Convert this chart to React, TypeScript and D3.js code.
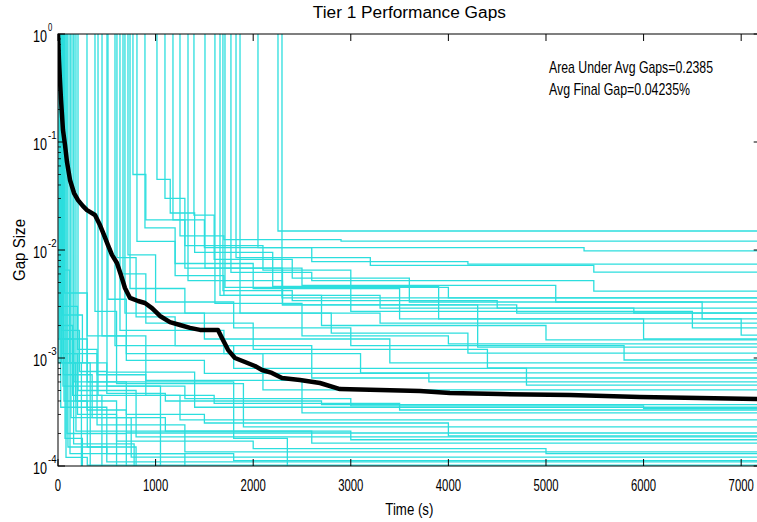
import React from 'react';
import * as d3 from 'd3';

const WIDTH = 757;
const HEIGHT = 522;

const titleText = 'Tier 1 Performance Gaps';
const xLabelText = 'Time (s)';
const yLabelText = 'Gap Size';
const noteLines = ['Area Under Avg Gaps=0.2385', 'Avg Final Gap=0.04235%'];

const xTickValues = [0, 1000, 2000, 3000, 4000, 5000, 6000, 7000];
const yDecadeExponents = [0, -1, -2, -3, -4];

// Average gap across all runs (time in s, gap as a fraction)
const avgTime = [0, 10, 20, 31, 41, 51, 72, 92, 123, 164, 205, 256, 297, 379, 430, 471, 512, 553, 604, 645, 686, 738, 820, 891, 963, 1045, 1147, 1250, 1352, 1455, 1639, 1680, 1742, 1813, 1916, 2018, 2090, 2192, 2295, 2479, 2684, 2889, 3299, 3709, 4016, 4528, 5245, 5962, 6577, 7200];
const avgGap = [1, 0.574, 0.375, 0.245, 0.178, 0.129, 0.0938, 0.0653, 0.0445, 0.0337, 0.029, 0.0255, 0.0234, 0.0211, 0.017, 0.0138, 0.0111, 0.009, 0.00758, 0.00587, 0.00445, 0.0036, 0.00337, 0.00323, 0.0029, 0.00245, 0.00215, 0.00202, 0.0019, 0.00182, 0.00182, 0.00153, 0.00119, 0.001, 0.000918, 0.000843, 0.000774, 0.000727, 0.000653, 0.000625, 0.000587, 0.000516, 0.000506, 0.000495, 0.000474, 0.000464, 0.000454, 0.000435, 0.000426, 0.000417];

// Individual runs: [time (s), best gap so far] breakpoints, held until the next one
const run01 = [[0, 1.2], [2295, 0.0036]];
const run02 = [[0, 1.2], [2254, 0.015]];
const run03 = [[0, 1.2], [2049, 0.0105], [5390, 0.0098]];
const run04 = [[0, 1.2], [1824, 0.0085], [3200, 0.0072], [5490, 0.00625]];
const run05 = [[0, 1.2], [1772, 0.0062], [2600, 0.0052], [5490, 0.00417]];
const run06 = [[0, 1.2], [1711, 0.0045], [4000, 0.0036]];
const run07 = [[0, 1.2], [1690, 0.0042], [2400, 0.0034], [4500, 0.0029]];
const run08 = [[0, 1.2], [1660, 0.0038], [3300, 0.0029], [5900, 0.00261]];
const run09 = [[0, 1.2], [1393, 0.021], [1600, 0.0082], [2400, 0.0055], [3600, 0.0033], [6600, 0.0023]];
const run10 = [[0, 1.2], [1096, 0.03], [1300, 0.011], [2100, 0.0065], [3000, 0.0027], [6500, 0.0019]];
const run11 = [[0, 1.2], [1014, 0.045], [1150, 0.022], [1400, 0.0095], [2200, 0.0046], [3900, 0.0023], [7000, 0.00163]];
const run12 = [[0, 1.2], [809, 0.012], [1200, 0.0058], [1700, 0.0038], [2700, 0.002], [5000, 0.00147]];
const run13 = [[0, 1.2], [768, 0.05], [900, 0.019], [1300, 0.0068], [2300, 0.0031], [4300, 0.00126]];
const run14 = [[0, 1.2], [738, 0.0044], [1300, 0.0026], [2800, 0.0017], [4200, 0.00111]];
const run15 = [[0, 1.2], [717, 0.009], [1000, 0.0033], [1800, 0.0019], [3000, 0.0013], [5800, 0.000958]];
const run16 = [[0, 1.2], [686, 0.0026], [1500, 0.0015], [3400, 0.0009]];
const run17 = [[0, 1.2], [666, 0.006], [900, 0.0021], [2000, 0.0012], [4400, 0.000808]];
const run18 = [[0, 1.2], [635, 0.0018], [1700, 0.0011], [3100, 0.000727]];
const run19 = [[0, 1.2], [604, 0.0085], [800, 0.0024], [1200, 0.0013], [2600, 0.000653]];
const run20 = [[0, 1.2], [584, 0.0013], [1800, 0.0008], [4800, 0.000562]];
const run21 = [[0, 1.2], [512, 0.0035], [700, 0.0011], [2100, 0.000506]];
const run22 = [[0, 1.2], [502, 0.00074], [1400, 0.00035]];
const run23 = [[0, 1.2], [451, 0.0016], [900, 0.00062], [2500, 0.00031]];
const run24 = [[0, 1.2], [410, 0.00045], [1250, 0.000267]];
const run25 = [[0, 1.2], [379, 0.0027], [600, 0.00058], [1900, 0.00023]];
const run26 = [[0, 1.2], [297, 0.00033], [700, 0.000202]];
const run27 = [[0, 1.2], [205, 0.0005], [800, 0.000186]];
const run28 = [[0, 1.2], [184, 0.00021], [2600, 0.000163]];
const run29 = [[0, 1.2], [154, 0.0011], [400, 0.00024], [1300, 0.000135]];
const run30 = [[0, 1.2], [133, 0.00028], [750, 0.000121]];
const run31 = [[0, 1.2], [102, 0.00015], [500, 0.000109]];
const run32 = [[0, 1.2], [82, 0.00012], [300, 0.000102]];
const run33 = [[0, 1.2], [891, 0.016], [1200, 0.0075], [2000, 0.0044], [3500, 0.0023], [6000, 0.0015]];
const run34 = [[0, 1.2], [1178, 0.019], [1500, 0.0105], [2600, 0.0078], [4200, 0.0074]];
const run35 = [[0, 1.2], [1250, 0.0135], [1700, 0.0125], [2900, 0.0121]];
const run36 = [[0, 1.2], [1332, 0.0052], [2300, 0.0031], [4700, 0.0026]];
const run37 = [[0, 1.2], [1506, 0.0068], [2500, 0.0047], [5100, 0.0033]];
const run38 = [[0, 1.2], [1865, 0.0026], [3300, 0.0021]];
const run39 = [[0, 1.2], [1608, 0.0032], [2500, 0.0016], [4000, 0.00135]];
const run40 = [[0, 1.2], [61, 0.0004], [300, 0.00015], [800, 0.00005]];
const run41 = [[0, 1.2], [41, 0.0011], [200, 0.0003], [600, 0.00005]];
const run42 = [[0, 1.2], [20, 0.002], [150, 0.00045], [450, 0.00005]];
const run43 = [[0, 1.2], [31, 0.0065], [120, 0.0009], [330, 0.00005]];
const run44 = [[0, 1.2], [72, 0.00018], [250, 0.00005]];
const run45 = [[0, 1.2], [92, 0.0002], [700, 0.00005]];
const run46 = [[0, 1.2], [123, 0.00013], [1300, 0.00005]];
const run47 = [[0, 1.2], [10, 0.0009], [240, 0.00005]];
const run48 = [[0, 1.2], [51, 0.00055], [1050, 0.00005]];
const run49 = [[0, 0.0015], [160, 0.00016], [780, 0.00005]];
const run50 = [[0, 1.2], [164, 0.0006], [1800, 0.00018], [2350, 0.00005]];
const run51 = [[0, 1.2], [25, 0.003], [200, 0.0012], [400, 0.0007], [900, 0.00045], [1600, 0.00038], [3500, 0.00033]];
const run52 = [[0, 1.2], [15, 0.0015], [300, 0.0006], [700, 0.0003], [1500, 0.00025], [4000, 0.00019]];
const run53 = [[0, 1.2], [35, 0.0009], [180, 0.0004], [600, 0.00017], [2000, 0.000145], [5000, 0.00013]];
const run54 = [[0, 1.2], [45, 0.0025], [250, 0.0009], [500, 0.00055], [1300, 0.00042], [3000, 0.00036], [6000, 0.00034]];
const run55 = [[0, 1.2], [55, 0.0007], [350, 0.00028], [1100, 0.00021], [3000, 0.000175]];
const run56 = [[0, 1.2], [65, 0.004], [300, 0.0016], [700, 0.00095], [1500, 0.00072], [3800, 0.0006]];
const run57 = [[0, 1.2], [28, 0.00035], [500, 0.00013], [1800, 0.000112]];
const run58 = [[0, 1.2], [38, 0.0018], [220, 0.00075], [500, 0.00047], [1100, 0.0004], [2700, 0.00037]];

const runs = [
  run01, run02, run03, run04, run05, run06, run07, run08, run09, run10,
  run11, run12, run13, run14, run15, run16, run17, run18, run19, run20,
  run21, run22, run23, run24, run25, run26, run27, run28, run29, run30,
  run31, run32, run33, run34, run35, run36, run37, run38, run39, run40,
  run41, run42, run43, run44, run45, run46, run47, run48, run49, run50,
  run51, run52, run53, run54, run55, run56, run57, run58,
];

const T_MAX = 7200;
const FONT = "'Liberation Sans', Arial, sans-serif";
const CYAN = '#2cdede';

export default function App() {
  const left = 58;
  const right = 760.7;
  const top = 34;
  const bottom = 466;

  const x = d3.scaleLinear().domain([0, T_MAX]).range([left, right]);
  const y = d3.scaleLog().domain([1e-4, 1]).range([bottom, top]);

  const stepLine = d3
    .line<number[]>()
    .x((d) => x(d[0]))
    .y((d) => y(d[1]))
    .curve(d3.curveStepAfter);

  const avgLine = d3
    .line<number>()
    .x((_, i) => x(avgTime[i]))
    .y((d) => y(d));

  const minorValues: number[] = [];
  for (let k = -4; k < 0; k++) {
    for (let m = 2; m <= 9; m++) minorValues.push(m * Math.pow(10, k));
  }

  const majorLen = 7;
  const minorLen = 3;
  const digitW = 6.3;

  return (
    <svg
      width={WIDTH}
      height={HEIGHT}
      style={{ position: 'fixed', left: 0, top: 0, background: '#fff' }}
      fontFamily={FONT}
    >
      <rect x={0} y={0} width={WIDTH} height={HEIGHT} fill="#fff" />
      <defs>
        <clipPath id="plotArea">
          <rect x={left} y={top} width={right - left} height={bottom - top} />
        </clipPath>
      </defs>

      <g clipPath="url(#plotArea)">
        {runs.map((r, i) => {
          const pts = [...r, [T_MAX, r[r.length - 1][1]]];
          return (
            <path
              key={i}
              d={stepLine(pts) || ''}
              fill="none"
              stroke={CYAN}
              strokeWidth={1.3}
            />
          );
        })}
        <path
          d={avgLine(avgGap) || ''}
          fill="none"
          stroke="#000"
          strokeWidth={4.5}
          strokeLinejoin="round"
        />
      </g>

      {/* axes box */}
      <rect
        x={left}
        y={top}
        width={right - left}
        height={bottom - top}
        fill="none"
        stroke="#000"
        strokeWidth={1}
      />

      {/* x ticks (top and bottom, inward) */}
      {xTickValues.map((t) => (
        <g key={`xt${t}`}>
          <line x1={x(t)} x2={x(t)} y1={bottom} y2={bottom - majorLen} stroke="#000" />
          <line x1={x(t)} x2={x(t)} y1={top} y2={top + majorLen} stroke="#000" />
          <text
            x={x(t)}
            y={491}
            fontSize={17}
            textAnchor="middle"
            textLength={String(t).length * digitW}
            lengthAdjust="spacingAndGlyphs"
          >
            {t}
          </text>
        </g>
      ))}

      {/* y decade ticks */}
      {yDecadeExponents.map((e) => {
        const yy = y(Math.pow(10, e));
        const sup = String(e);
        return (
          <g key={`yt${e}`}>
            <line x1={left} x2={left + majorLen} y1={yy} y2={yy} stroke="#000" />
            <line x1={right} x2={right - majorLen} y1={yy} y2={yy} stroke="#000" />
            <text
              x={33}
              y={yy + 7.5}
              fontSize={17}
              textLength={14}
              lengthAdjust="spacingAndGlyphs"
            >
              10
            </text>
            <text
              x={48}
              y={yy - 3.5}
              fontSize={11}
              textLength={sup.length * 4.3}
              lengthAdjust="spacingAndGlyphs"
            >
              {sup}
            </text>
          </g>
        );
      })}

      {/* minor log ticks */}
      {minorValues.map((v, i) => (
        <g key={`mt${i}`}>
          <line x1={left} x2={left + minorLen} y1={y(v)} y2={y(v)} stroke="#000" strokeWidth={0.8} />
          <line x1={right} x2={right - minorLen} y1={y(v)} y2={y(v)} stroke="#000" strokeWidth={0.8} />
        </g>
      ))}

      {/* title and axis labels */}
      <text
        x={(left + right) / 2}
        y={18}
        fontSize={16}
        textAnchor="middle"
        textLength={193}
        lengthAdjust="spacingAndGlyphs"
      >
        {titleText}
      </text>
      <text
        x={(left + right) / 2}
        y={515}
        fontSize={17}
        textAnchor="middle"
        textLength={48}
        lengthAdjust="spacingAndGlyphs"
      >
        {xLabelText}
      </text>
      <text
        transform={`translate(25, ${(top + bottom) / 2}) rotate(-90)`}
        fontSize={16}
        textAnchor="middle"
        textLength={62}
        lengthAdjust="spacingAndGlyphs"
      >
        {yLabelText}
      </text>

      {/* annotations */}
      <text x={549} y={73} fontSize={17} textLength={164} lengthAdjust="spacingAndGlyphs">
        {noteLines[0]}
      </text>
      <text x={549} y={95} fontSize={17} textLength={141} lengthAdjust="spacingAndGlyphs">
        {noteLines[1]}
      </text>
    </svg>
  );
}
